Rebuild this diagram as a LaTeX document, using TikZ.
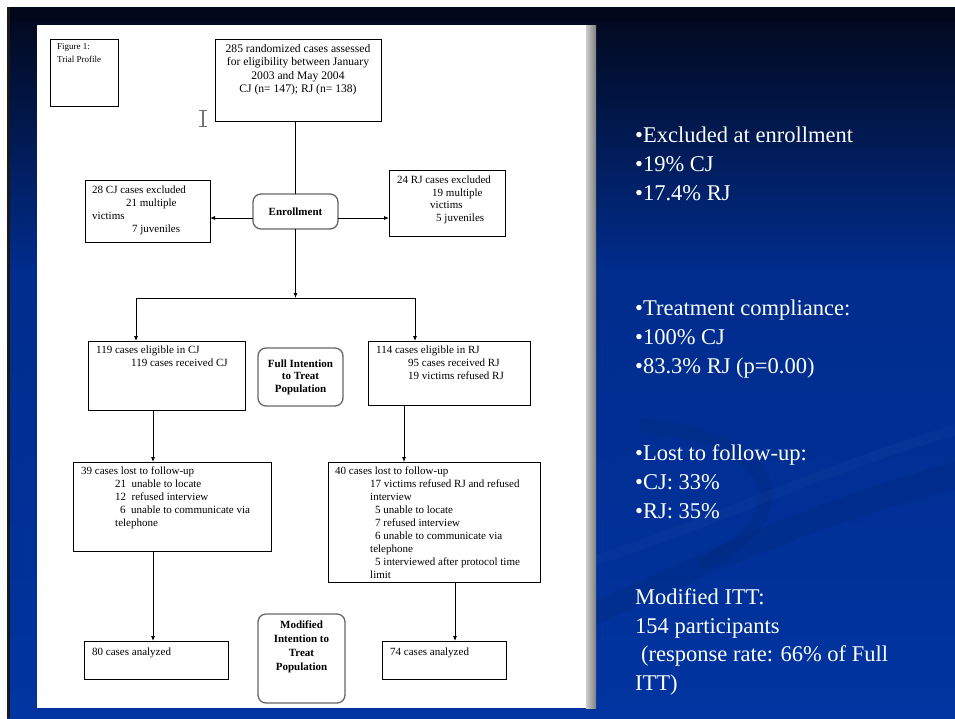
\documentclass[tikz,border=0pt]{standalone}
\usepackage{fontspec}
\setmainfont{Liberation Serif}
\usetikzlibrary{arrows.meta}
\definecolor{navytop}{RGB}{2,8,26}
\definecolor{navymid}{RGB}{0,44,140}
\definecolor{slideblue}{RGB}{0,52,160}
\begin{document}
\begin{tikzpicture}[x=1pt,y=-1pt,
  box/.style={draw=black, line width=0.8pt, inner sep=0pt, outer sep=0pt, anchor=north west},
  rbox/.style={draw=black!60, line width=1.3pt, rounded corners=8pt, inner sep=0pt, outer sep=0pt, anchor=north west,
     font=\fontsize{11}{12.5}\selectfont\bfseries, align=center},
  txt/.style={font=\fontsize{11}{13}\selectfont, align=left, inner sep=0pt, anchor=north west},
  ctxt/.style={font=\fontsize{11}{14}\selectfont\bfseries, align=center, inner sep=0pt},
  arr/.style={-{Latex[length=5pt,width=4pt]}, line width=0.8pt},
  conn/.style={line width=0.8pt},
  rtxt/.style={text=white, font=\fontsize{22.5}{29}\selectfont, inner sep=0pt, anchor=base west}]
\useasboundingbox (0,0) rectangle (955,718);
\fill[white] (0,0) rectangle (955,718);
% slide background
\shade[top color=navytop, bottom color=navymid] (7,7) rectangle (955,270);
\shade[top color=navymid, bottom color=slideblue] (7,270) rectangle (955,718);
\fill[navytop, opacity=0.6] (7,7) rectangle (955,22);
\fill[black!90] (7,7) rectangle (10,718);
% subtle swooshes
\fill[black, opacity=0.06] (596,600) .. controls (750,530) and (850,490) .. (955,462) -- (955,490) .. controls (850,515) and (750,555) .. (596,625) -- cycle;
\draw[black, opacity=0.06, line width=14pt] (640,425) .. controls (790,440) and (800,520) .. (700,565);
\draw[white, opacity=0.02, line width=10pt] (596,560) .. controls (720,520) and (820,470) .. (955,430);
% page
\fill[white] (37,25) rectangle (586,708);
\shade[left color=black!20, right color=black!50] (586,25) rectangle (596,708);
% cursor
\draw[black!55, line width=1.6pt] (203,111) -- (203,126);
\draw[black!55, line width=1pt] (199,110.5) -- (207,110.5) (199,126.5) -- (207,126.5);
% boxes
\node[box, minimum width=68, minimum height=67] (fig) at (50,39) {};
\node[txt, font=\fontsize{9}{13}\selectfont] (figt) at (57,43) {Figure 1:\\Trial Profile};
\node[box, minimum width=166, minimum height=82] (top) at (215,39) {};
\node[ctxt, font=\fontsize{11.6}{13.4}\selectfont, anchor=north] (topt) at (298,44)
  {285 randomized cases assessed\\for eligibility between January\\2003 and May 2004\\CJ (n= 147); RJ (n= 138)};
\node[rbox, minimum width=85, minimum height=35] (enroll) at (253,194) {Enrollment};
\node[box, minimum width=125, minimum height=62] (exL) at (85,180) {};
\node[txt] (exLt) at (92,186) {28 CJ cases excluded\\\hspace*{34pt}21 multiple\\victims\\\hspace*{40pt}7 juveniles};
\node[box, minimum width=116, minimum height=66] (exR) at (389,170) {};
\node[txt, font=\fontsize{11}{12.4}\selectfont] (exRt) at (397,176) {24 RJ cases excluded\\\hspace*{35pt}19 multiple\\\hspace*{33pt}victims\\\hspace*{39pt}5 juveniles};
\node[box, minimum width=157, minimum height=69] (eligL) at (88,341) {};
\node[txt] (eligLt) at (96,346) {119 cases eligible in CJ\\\hspace*{35pt}119 cases received CJ};
\node[rbox, minimum width=85, minimum height=58] (full) at (258,348) {Full Intention\\to Treat\\Population};
\node[box, minimum width=162, minimum height=64] (eligR) at (368,341) {};
\node[txt] (eligRt) at (376,346) {114 cases eligible in RJ\\\hspace*{32pt}95 cases received RJ\\\hspace*{32pt}19 victims refused RJ};
\node[box, minimum width=198, minimum height=89] (lostL) at (73,462) {};
\node[txt] (lostLt) at (81,467) {39 cases lost to follow-up\\\hspace*{34pt}21\ \ unable to locate\\\hspace*{34pt}12\ \ refused interview\\\hspace*{39pt}6\ \ unable to communicate via\\\hspace*{34pt}telephone};
\node[box, minimum width=212, minimum height=120] (lostR) at (328,462) {};
\node[txt, font=\fontsize{11}{12.9}\selectfont] (lostRt) at (335,467) {40 cases lost to follow-up\\\hspace*{35pt}17 victims refused RJ and refused\\\hspace*{35pt}interview\\\hspace*{40pt}5 unable to locate\\\hspace*{40pt}7 refused interview\\\hspace*{40pt}6 unable to communicate via\\\hspace*{35pt}telephone\\\hspace*{40pt}5 interviewed after protocol time\\\hspace*{35pt}limit};
\node[box, minimum width=144, minimum height=38] (anL) at (84,641) {};
\node[txt] (anLt) at (92,648) {80 cases analyzed};
\node[rbox, minimum width=87, minimum height=89] (mod) at (258,614) {};
\node[ctxt, anchor=north] (modt) at (mod.north |- 0,621) {Modified\\Intention to\\Treat\\Population};
\node[box, minimum width=124, minimum height=38] (anR) at (382,641) {};
\node[txt] (anRt) at (390,648) {74 cases analyzed};
% connectors
\coordinate (split) at (296,298);
\coordinate (bl) at (136,298);
\coordinate (br) at (415,298);
\coordinate (ya) at (0,218);
\coordinate (cl) at (153,0);
\coordinate (cr1) at (404,0);
\coordinate (cr2) at (455,0);
\draw[conn] (enroll.north |- top.south) -- (enroll.north);
\draw[arr] (enroll.south) -- (enroll.south |- split);
\draw[conn] (bl) -- (br);
\draw[arr] (bl) -- (bl |- eligL.north);
\draw[arr] (br) -- (br |- eligR.north);
\draw[arr] (enroll.west |- ya) -- (exL.east |- ya);
\draw[arr] (enroll.east |- ya) -- (exR.west |- ya);
\draw[arr] (cl |- eligL.south) -- (cl |- lostL.north);
\draw[arr] (cl |- lostL.south) -- (cl |- anL.north);
\draw[arr] (cr1 |- eligR.south) -- (cr1 |- lostR.north);
\draw[arr] (cr2 |- lostR.south) -- (cr2 |- anR.north);
% right side text
\node[rtxt] (r1) at (635,142) {\textbullet Excluded at enrollment};
\node[rtxt] (r2) at (635,171) {\textbullet 19\% CJ};
\node[rtxt] (r3) at (635,200) {\textbullet 17.4\% RJ};
\node[rtxt] (r4) at (635,315) {\textbullet Treatment compliance:};
\node[rtxt] (r5) at (635,344) {\textbullet 100\% CJ};
\node[rtxt] (r6) at (635,373) {\textbullet 83.3\% RJ (p=0.00)};
\node[rtxt] (r7) at (635,460) {\textbullet Lost to follow-up:};
\node[rtxt] (r8) at (635,489) {\textbullet CJ: 33\%};
\node[rtxt] (r9) at (635,518) {\textbullet RJ: 35\%};
\node[rtxt] (r10) at (635,604) {Modified ITT:};
\node[rtxt] (r11) at (635,633) {154 participants};
\node[rtxt] (r12) at (641,661) {(response rate: 66\% of Full};
\node[rtxt] (r13) at (635,690) {ITT)};
\end{tikzpicture}
\end{document}
